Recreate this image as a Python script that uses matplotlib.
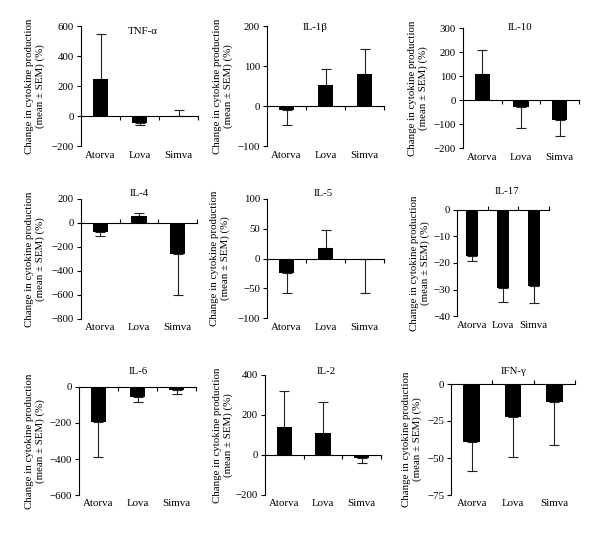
import matplotlib
matplotlib.use('Agg')
import matplotlib.pyplot as plt
import numpy as np

plt.rcParams['font.family'] = ['Liberation Serif', 'DejaVu Serif']
plt.rcParams['font.size'] = 7.8

# data
drugs = ['Atorva', 'Lova', 'Simva']
cytokines = ['TNF-α', 'IL-1β', 'IL-10', 'IL-4', 'IL-5', 'IL-17', 'IL-6', 'IL-2', 'IFN-γ']
means = [
    [250, -45, 3],
    [-10, 52, 80],
    [110, -30, -85],
    [-75, 55, -255],
    [-24, 18, -1],
    [-17.5, -29.3, -28.5],
    [-195, -55, -18],
    [140, 110, -15],
    [-39, -22.5, -12],
]
sems = [
    [300, 15, 37],
    [38, 40, 62],
    [100, 88, 65],
    [35, 30, 345],
    [34, 30, 57],
    [1.8, 5.5, 6.5],
    [195, 30, 22],
    [180, 155, 25],
    [20, 27, 29],
]
ylims = [(-200, 600), (-100, 200), (-200, 300), (-800, 200), (-100, 100),
         (-40, 0), (-600, 0), (-200, 400), (-75, 0)]
ysteps = [200, 100, 100, 200, 50, 10, 200, 200, 25]

ylabel = 'Change in cytokine production\n(mean ± SEM) (%)'

# layout in pixels: (left, top, right, bottom) of each axes
W, H = 600, 541
boxes = [(81, 26, 198, 146), (267, 26, 384, 146), (463, 28, 579, 148),
         (81, 199, 197, 319), (267, 199, 384, 318), (457, 210, 549, 316),
         (79, 387, 196, 495), (265, 375, 381, 495), (451, 384, 575, 495)]
title_pos = [(143, 31), (315, 27), (520, 28), (139, 193), (323, 193),
             (507, 192), (138, 371), (326, 371), (514, 372)]
ylab_off = [46, 44, 45, 46, 47, 37, 44, 42, 39]
tick_dir = ['out', 'out', 'out', 'in', 'out', 'in', 'out', 'out', 'in']

fig = plt.figure(figsize=(W / 100, H / 100), dpi=100)

x = np.arange(len(drugs))
for i, name in enumerate(cytokines):
    l, t, r, b = boxes[i]
    ax = fig.add_axes([l / W, 1 - b / H, (r - l) / W, (b - t) / H])
    m = np.array(means[i], dtype=float)
    e = np.array(sems[i], dtype=float)
    lower = np.where(m < 0, e, 0)
    upper = np.where(m >= 0, e, 0)
    ax.errorbar(x, m, yerr=[lower, upper], fmt='none', ecolor='#222222',
                elinewidth=0.8, capsize=3.5, capthick=0.8, zorder=1)
    ax.bar(x, m, width=0.4, color='black', zorder=2)

    ax.set_xlim(-0.5, 2.5)
    lo, hi = ylims[i]
    ax.set_ylim(lo, hi)
    ax.set_yticks(np.arange(lo, hi + 1, ysteps[i]))
    ax.set_xticks([0.5, 1.5, 2.5])
    ax.set_xticklabels([])

    ax.spines['top'].set_visible(False)
    ax.spines['right'].set_visible(False)
    ax.spines['bottom'].set_position(('data', 0))
    for s in ('left', 'bottom'):
        ax.spines[s].set_linewidth(0.8)
    ax.tick_params(axis='y', direction='out', length=3, width=0.8, pad=2)
    ax.tick_params(axis='x', direction=tick_dir[i], length=3, width=0.8)

    # category names sit under the axes, not on the zero line
    ah = b - t
    for j, d in enumerate(drugs):
        ax.text(j, -9 / ah, d, transform=ax.get_xaxis_transform(),
                ha='center', va='center')

    fig.text(title_pos[i][0] / W, 1 - title_pos[i][1] / H, name,
             ha='center', va='center')
    fig.text((l - ylab_off[i]) / W, 1 - (t + b) / 2 / H, ylabel,
             rotation=90, ha='center', va='center', linespacing=1.1)

fig.savefig('out.png', dpi=100)
